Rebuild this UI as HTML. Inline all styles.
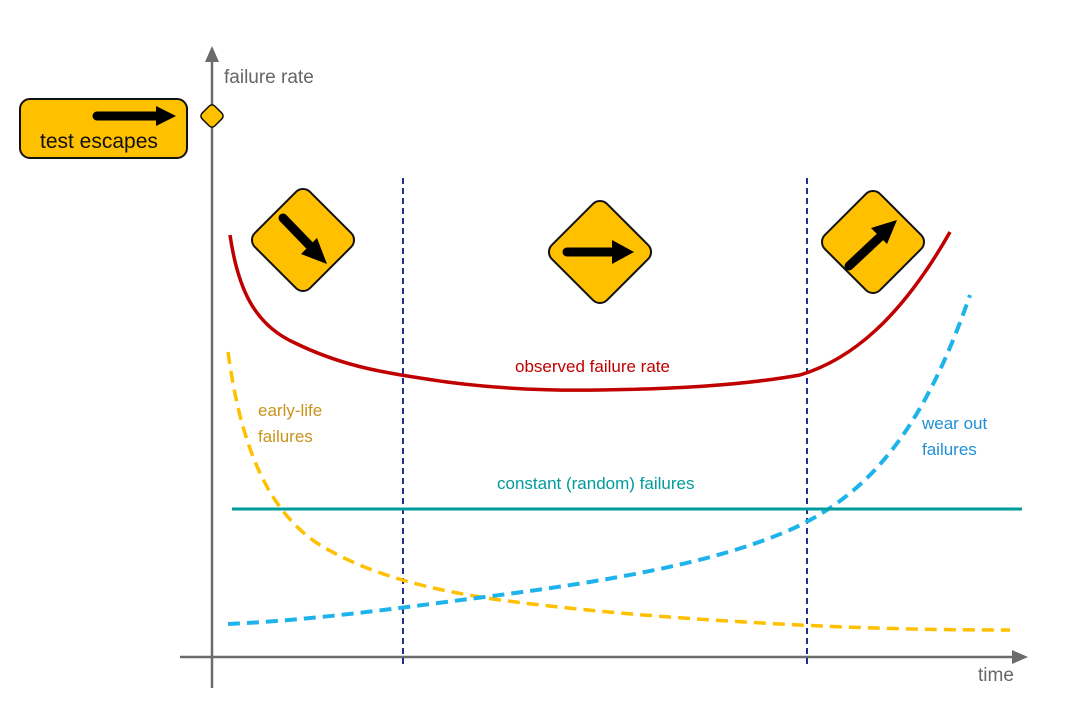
<!DOCTYPE html>
<html><head><style>body{margin:0;background:#fff}svg{display:block}text{font-family:"Liberation Sans",sans-serif}</style></head><body>
<svg width="1080" height="710" viewBox="0 0 1080 710">
<!-- axes -->
<line x1="212" y1="58" x2="212" y2="688" stroke="#6b6b6b" stroke-width="2.5"/>
<polygon points="212,46 205,62 219,62" fill="#6b6b6b"/>
<line x1="180" y1="657" x2="1015" y2="657" stroke="#6b6b6b" stroke-width="2.5"/>
<polygon points="1028,657 1012,650 1012,664" fill="#6b6b6b"/>
<text x="224" y="83" font-size="19" fill="#666">failure rate</text>
<text x="978" y="681" font-size="19" fill="#666">time</text>
<!-- dashed verticals -->
<line x1="403" y1="178" x2="403" y2="667" stroke="#1f2f8a" stroke-width="2" stroke-dasharray="6,4"/>
<line x1="807" y1="178" x2="807" y2="667" stroke="#1f2f8a" stroke-width="2" stroke-dasharray="6,4"/>
<!-- test escapes -->
<rect x="20" y="99" width="167" height="59" rx="10" fill="#ffc000" stroke="#111" stroke-width="2"/>
<line x1="97" y1="116" x2="160" y2="116" stroke="#000" stroke-width="9" stroke-linecap="round"/>
<polygon points="176,116 156,106 156,126" fill="#000"/>
<text x="40" y="148" font-size="21" fill="#111">test escapes</text>
<rect x="203" y="107" width="18" height="18" rx="4" transform="rotate(45 212 116)" fill="#ffc000" stroke="#111" stroke-width="1.5"/>
<!-- signs -->
<g transform="translate(303 240)"><rect x="-39" y="-39" width="78" height="78" rx="10" transform="rotate(45)" fill="#ffc000" stroke="#111" stroke-width="2"/>
<line x1="-20" y1="-22" x2="9" y2="8" stroke="#000" stroke-width="9" stroke-linecap="round"/><polygon points="24,24 -2,14 14,-2" fill="#000"/></g>
<g transform="translate(600 252)"><rect x="-39" y="-39" width="78" height="78" rx="10" transform="rotate(45)" fill="#ffc000" stroke="#111" stroke-width="2"/>
<line x1="-33" y1="0" x2="15" y2="0" stroke="#000" stroke-width="9" stroke-linecap="round"/><polygon points="34,0 12,-12 12,12" fill="#000"/></g>
<g transform="translate(873 242)"><rect x="-39" y="-39" width="78" height="78" rx="10" transform="rotate(45)" fill="#ffc000" stroke="#111" stroke-width="2"/>
<line x1="-24" y1="24" x2="8" y2="-6" stroke="#000" stroke-width="9" stroke-linecap="round"/><polygon points="24,-22 -2,-14 14,2" fill="#000"/></g>
<!-- curves -->
<path d="M230,235 C238,290 255,325 295,343 C340,365 380,372 420,378 C480,388 540,391 600,390 C680,389 750,384 800,375 C850,360 900,320 950,232" fill="none" stroke="#c00000" stroke-width="3.5"/>
<path d="M228,352 C240,440 265,510 320,545 C370,575 430,590 500,600 C600,613 700,620 800,625 C880,629 950,630 1010,630" fill="none" stroke="#ffc000" stroke-width="3.5" stroke-dasharray="12,7"/>
<path d="M228,624 C320,620 420,605 500,595 C600,582 700,565 770,538 C860,505 920,440 970,295" fill="none" stroke="#1fb3ec" stroke-width="4" stroke-dasharray="12,7"/>
<line x1="232" y1="509" x2="1022" y2="509" stroke="#009b9b" stroke-width="3"/>
<!-- labels -->
<text x="515" y="372" font-size="17" fill="#c00000">observed failure rate</text>
<text x="258" y="416" font-size="17" fill="#c8941c">early-life</text>
<text x="258" y="442" font-size="17" fill="#c8941c">failures</text>
<text x="497" y="489" font-size="17" fill="#009b9b">constant (random) failures</text>
<text x="922" y="429" font-size="17" fill="#1f8fd6">wear out</text>
<text x="922" y="455" font-size="17" fill="#1f8fd6">failures</text>
</svg>
</body></html>
